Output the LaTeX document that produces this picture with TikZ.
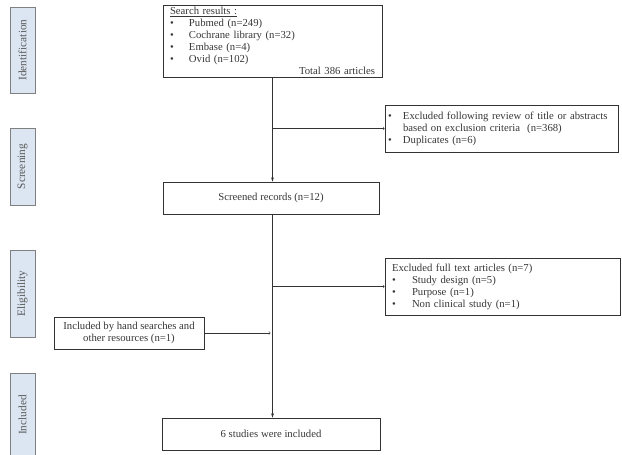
\documentclass[tikz,border=0pt]{standalone}
\usepackage{fontspec}
\setmainfont{Liberation Serif}
\usetikzlibrary{shadows}
\definecolor{stagefill}{RGB}{220,230,242}
\definecolor{txtgray}{RGB}{55,55,55}
\tikzset{
  box/.style={draw=black!80, line width=0.7pt, text=txtgray, font=\fontsize{10.7}{12}\selectfont, inner xsep=7pt, inner ysep=2pt},
  stage/.style={draw=gray, fill=stagefill, text=black!65, rotate=90, minimum height=25, inner sep=0pt,
    font=\fontsize{11.3}{12}\selectfont,
    drop shadow={shadow xshift=1.2pt, shadow yshift=-1.2pt, fill=black!60, opacity=1}},
}
\newcommand{\bl}[1]{\makebox[#1][l]{\textbullet}}
\begin{document}
\begin{tikzpicture}[x=1pt, y=-1pt]
      \useasboundingbox (0,0) rectangle (622,455);

      \node[stage, minimum width=86] (idf) at (22.5,50) {Identification};
      \node[stage, minimum width=77] (scr) at (22.5,166.5) {Screening};
      \node[stage, minimum width=87] (elig) at (22.5,293.5) {Eligibility};
      \node[stage, minimum width=84] (incl) at (22.5,415) {Included};

      \node[box, minimum width=219, minimum height=72, text width=205, align=left] (search) at (272.5,41)
        {\underline{Search results :}\\
         \bl{19pt}Pubmed (n=249)\\
         \bl{19pt}Cochrane library (n=32)\\
         \bl{19pt}Embase (n=4)\\
         \bl{19pt}Ovid (n=102)\\
         \hspace*{\fill}Total 386 articles};
      \node[box, inner xsep=3pt, minimum width=233, minimum height=47, text width=227, align=left] (excl1) at (501.5,128.5)
        {\bl{15pt}Excluded following review of title or abstracts\\
         \hspace*{15pt}based on exclusion criteria\ \ (n=368)\\
         \bl{15pt}Duplicates (n=6)};
      \node[box, minimum width=216, minimum height=32] (screened) at (271,198) {Screened records (n=12)};
      \node[box, minimum width=235, minimum height=57, text width=221, align=left] (excl2) at (502.5,286.5)
        {Excluded full text articles (n=7)\\
         \bl{20pt}Study design (n=5)\\
         \bl{20pt}Purpose (n=1)\\
         \bl{20pt}Non clinical study (n=1)};
      \node[box, minimum width=150, minimum height=32, align=center] (hand) at (129,333)
        {Included by hand searches and\\ other resources (n=1)};
      \node[box, minimum width=218, minimum height=32] (final) at (271,434) {6 studies were included};

      \coordinate (b1) at (search.south |- excl1.west);
      \coordinate (b2) at (search.south |- excl2.west);
      \coordinate (h) at (search.south |- hand.east);

      \draw[-latex, black!80] (search.south) -- (search.south |- screened.north);
      \draw[-latex, black!80] (search.south |- screened.south) -- (search.south |- final.north);
      \draw[->, black!80] (b1) -- (excl1.west);
      \draw[->, black!80] (b2) -- (excl2.west);
      \draw[->, black!80] (hand.east) -- ([xshift=-2pt]h);
    \end{tikzpicture}
\end{document}
